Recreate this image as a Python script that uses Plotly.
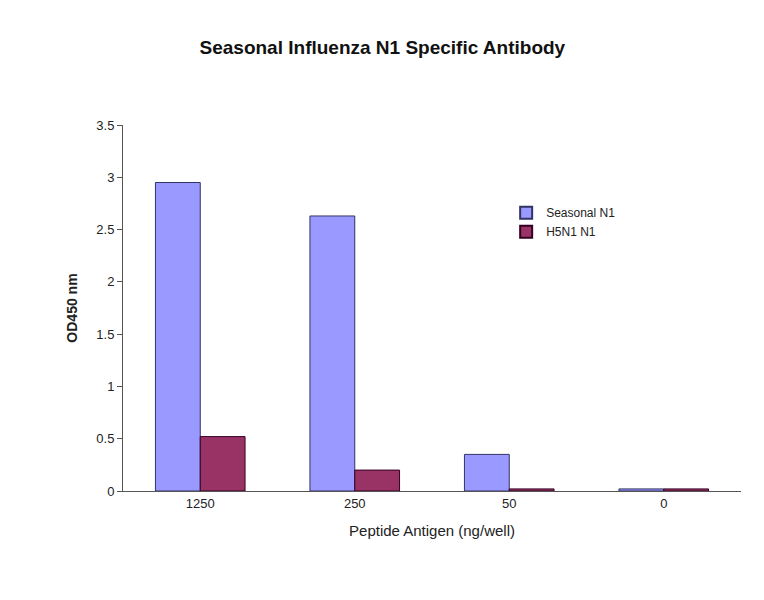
import plotly.graph_objects as go

categories = ["1250", "250", "50", "0"]
series1_name = "Seasonal N1"
series1 = [2.95, 2.63, 0.35, 0.02]
series2_name = "H5N1 N1"
series2 = [0.52, 0.20, 0.02, 0.02]
yticks = [0, 0.5, 1, 1.5, 2, 2.5, 3, 3.5]
yticklabels = ["0", "0.5", "1", "1.5", "2", "2.5", "3", "3.5"]

fig = go.Figure()
fig.add_bar(x=categories, y=series1, name=series1_name,
            marker=dict(color="#9999ff", line=dict(color="#333366", width=1)))
fig.add_bar(x=categories, y=series2, name=series2_name,
            marker=dict(color="#993366", line=dict(color="#330022", width=1)))
fig.update_layout(
    width=764, height=600, paper_bgcolor="white", plot_bgcolor="white",
    font=dict(family="Liberation Sans, Arial", color="#222", size=13),
    title=dict(text="<b>Seasonal Influenza N1 Specific Antibody</b>", x=0.49, y=0.945,
               xanchor="center", font=dict(size=19, color="#111")),
    margin=dict(l=115, r=31, t=117, b=117),
    barmode="group", bargap=0.42, bargroupgap=0,
    legend=dict(x=0.62, y=0.8, xanchor="left", yanchor="top",
                font=dict(size=12), tracegroupgap=0, itemsizing="constant"),
    xaxis=dict(title=dict(text="Peptide Antigen (ng/well)", font=dict(size=15)),
               showline=True, linecolor="#555", ticks="", showgrid=False),
    yaxis=dict(title=dict(text="<b>OD450 nm</b>", font=dict(size=14)),
               range=[0, 3.5], tickvals=yticks, ticktext=yticklabels,
               showline=True, linecolor="#555", ticks="outside", ticklen=5,
               tickcolor="#555", showgrid=False, zeroline=False),
)
fig.write_html("out.html")
